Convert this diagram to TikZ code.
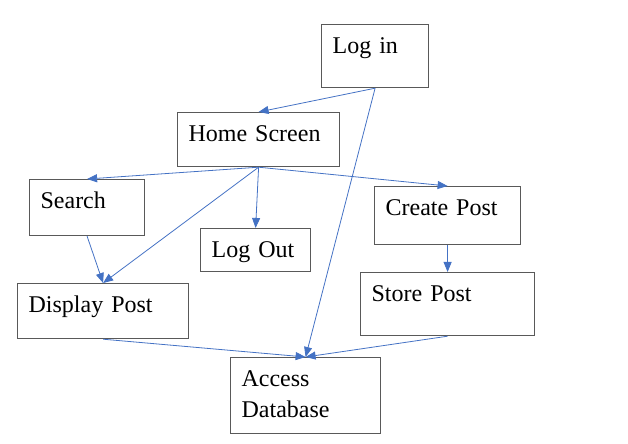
\documentclass[tikz,border=0pt]{standalone}
\usepackage{fontspec}
\setmainfont{Liberation Serif}
\usetikzlibrary{arrows.meta}
\begin{document}
\begin{tikzpicture}[
        box/.style 2 args={draw=black!65, line width=0.6pt, anchor=north west,
            inner xsep=5.5pt, inner ysep=0pt, align=left,
            text width=#1, text height=14.5pt, text depth=#2,
            font=\fontsize{12}{15.5}\selectfont},
        arr/.style={draw={rgb,255:red,68;green,114;blue,196}, line width=0.4pt,
            -{Triangle[length=5pt,width=4pt]}}]

\useasboundingbox (0,0) rectangle (314pt,-222pt);

\node[box={42.5pt}{17pt}]   (login)   at (160.5pt,-12pt)   {Log in};
\node[box={70pt}{12.5pt}]   (home)    at (88.5pt,-56pt)    {Home Screen};
\node[box={46.5pt}{13.5pt}] (search)  at (14.5pt,-89.5pt)  {Search};
\node[box={44pt}{7pt}]      (logout)  at (100pt,-114pt)    {Log Out};
\node[box={74.5pt}{13pt}]   (display) at (8.5pt,-141.5pt)  {Display Post};
\node[box={64pt}{23.5pt}]   (access)  at (115pt,-178.5pt)  {Access\\Database};
\node[box={62pt}{14.5pt}]   (create)  at (187pt,-93pt)     {Create Post};
\node[box={76pt}{17pt}]     (store)   at (180pt,-136pt)    {Store Post};

\draw[arr] (login.south) -- (home.north);
\draw[arr] (login.south) -- (access.north);
\draw[arr] (home.south) -- (search.north);
\draw[arr] (home.south) -- (display.north);
\draw[arr] (home.south) -- (logout.north);
\draw[arr] (home.south) -- (create.north);
\draw[arr] (search.south) -- (display.north);
\draw[arr] (create.south) -- (store.north);
\draw[arr] (display.south) -- (access.north);
\draw[arr] (store.south) -- (access.north);
\end{tikzpicture}
\end{document}
